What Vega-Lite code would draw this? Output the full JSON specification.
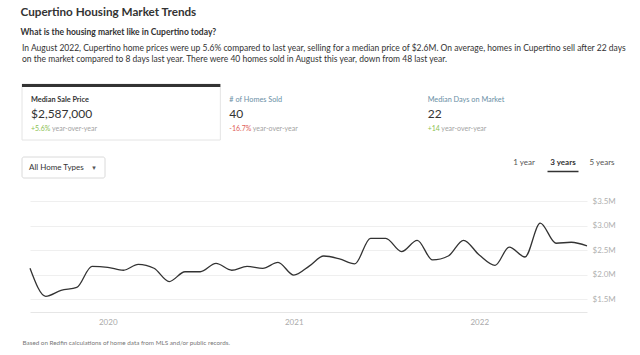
{
  "$schema": "https://vega.github.io/schema/vega-lite/v6.json",
  "background": "white",
  "padding": {"left": 20, "top": 7, "right": 0, "bottom": 0},
  "autosize": {"type": "pad"},
  "config": {
    "font": "Lato",
    "view": {"stroke": null},
    "concat": {"spacing": 0}
  },
  "spacing": 0,
  "title": {
    "text": "Cupertino Housing Market Trends",
    "subtitle": "What is the housing market like in Cupertino today?",
    "anchor": "start",
    "font": "Lato",
    "fontSize": 11.7,
    "fontWeight": "bold",
    "color": "#333333",
    "subtitleFont": "Lato",
    "subtitleFontSize": 8.5,
    "subtitleFontWeight": "bold",
    "subtitleColor": "#333333",
    "subtitlePadding": 8.5,
    "offset": 7.5
  },
  "vconcat": [
    {
      "width": 595,
      "height": 56,
      "title": {
        "text": [
          "In August 2022, Cupertino home prices were up 5.6% compared to last year, selling for a median price of $2.6M. On average, homes in Cupertino sell after 22 days",
          "on the market compared to 8 days last year. There were 40 homes sold in August this year, down from 48 last year."
        ],
        "anchor": "start",
        "frame": "group",
        "dx": -8,
        "font": "Lato",
        "fontSize": 8.5,
        "fontWeight": "normal",
        "color": "#333333",
        "lineHeight": 11.5,
        "offset": 20
      },
      "data": {
        "values": [
          {"tab": "Median Sale Price", "value": "$2,587,000", "change": "+5.6%", "selected": true, "dir": "up"},
          {"tab": "# of Homes Sold", "value": "40", "change": "-16.7%", "selected": false, "dir": "down"},
          {"tab": "Median Days on Market", "value": "22", "change": "+14", "selected": false, "dir": "up"}
        ]
      },
      "encoding": {
        "x": {"field": "tab", "type": "nominal", "bandPosition": 0, "scale": {"type": "band", "domain": ["Median Sale Price", "# of Homes Sold", "Median Days on Market"], "range": [-8, 587], "paddingInner": 0, "paddingOuter": 0}, "axis": null}
      },
      "layer": [
        {
          "transform": [{"filter": "datum.selected"}],
          "mark": {"type": "bar", "fill": "white", "stroke": "#e4e4e4", "strokeWidth": 1},
          "encoding": {
            "x": {"field": "tab", "type": "nominal", "scale": {"type": "band", "domain": ["Median Sale Price", "# of Homes Sold", "Median Days on Market"], "range": [-8, 587], "paddingInner": 0, "paddingOuter": 0}, "axis": null}
          }
        },
        {
          "transform": [{"filter": "datum.selected"}],
          "mark": {"type": "rule", "color": "#333333", "strokeWidth": 3},
          "encoding": {
            "x2": {"field": "tab", "bandPosition": 1},
            "y": {"datum": "bar", "type": "nominal", "scale": {"type": "point", "domain": ["bar", "label", "value", "change"], "range": [1.5, 44.5], "padding": 0}, "axis": null}
          }
        },
        {
          "transform": [{"filter": "datum.selected"}],
          "mark": {"type": "text", "align": "left", "baseline": "middle", "dx": 9, "fontSize": 7.3, "fontWeight": "bold", "color": "#333333"},
          "encoding": {
            "y": {"datum": "label", "type": "nominal", "scale": {"type": "point", "domain": ["bar", "label", "value", "change"], "range": [1.5, 44.5], "padding": 0}, "axis": null},
            "text": {"field": "tab"}
          }
        },
        {
          "transform": [{"filter": "!datum.selected"}],
          "mark": {"type": "text", "align": "left", "baseline": "middle", "dx": 9, "fontSize": 7.3, "fontWeight": "normal", "color": "#6a8fa6"},
          "encoding": {
            "y": {"datum": "label", "type": "nominal", "scale": {"type": "point", "domain": ["bar", "label", "value", "change"], "range": [1.5, 44.5], "padding": 0}, "axis": null},
            "text": {"field": "tab"}
          }
        },
        {
          "mark": {"type": "text", "align": "left", "baseline": "middle", "dx": 9, "fontSize": 12, "color": "#333333"},
          "encoding": {
            "y": {"datum": "value", "type": "nominal", "scale": {"type": "point", "domain": ["bar", "label", "value", "change"], "range": [1.5, 44.5], "padding": 0}, "axis": null},
            "text": {"field": "value"}
          }
        },
        {
          "mark": {"type": "text", "align": "left", "baseline": "middle", "dx": 9, "fontSize": 7},
          "encoding": {
            "y": {"datum": "change", "type": "nominal", "scale": {"type": "point", "domain": ["bar", "label", "value", "change"], "range": [1.5, 44.5], "padding": 0}, "axis": null},
            "text": {"field": "change"},
            "color": {"field": "dir", "type": "nominal", "scale": {"domain": ["up", "down"], "range": ["#8cc152", "#e0605a"]}, "legend": null}
          }
        },
        {
          "transform": [{"filter": "datum.tab === 'Median Sale Price'"}],
          "mark": {"type": "text", "align": "left", "baseline": "middle", "dx": 30, "fontSize": 7, "color": "#a3a3a3"},
          "encoding": {
            "y": {"datum": "change", "type": "nominal", "scale": {"type": "point", "domain": ["bar", "label", "value", "change"], "range": [1.5, 44.5], "padding": 0}, "axis": null},
            "text": {"value": "year-over-year"}
          }
        },
        {
          "transform": [{"filter": "datum.tab === '# of Homes Sold'"}],
          "mark": {"type": "text", "align": "left", "baseline": "middle", "dx": 32.5, "fontSize": 7, "color": "#a3a3a3"},
          "encoding": {
            "y": {"datum": "change", "type": "nominal", "scale": {"type": "point", "domain": ["bar", "label", "value", "change"], "range": [1.5, 44.5], "padding": 0}, "axis": null},
            "text": {"value": "year-over-year"}
          }
        },
        {
          "transform": [{"filter": "datum.tab === 'Median Days on Market'"}],
          "mark": {"type": "text", "align": "left", "baseline": "middle", "dx": 22.7, "fontSize": 7, "color": "#a3a3a3"},
          "encoding": {
            "y": {"datum": "change", "type": "nominal", "scale": {"type": "point", "domain": ["bar", "label", "value", "change"], "range": [1.5, 44.5], "padding": 0}, "axis": null},
            "text": {"value": "year-over-year"}
          }
        }
      ]
    },
    {
      "width": 595,
      "height": 56,
      "resolve": {"scale": {"x": "independent", "y": "independent"}},
      "layer": [
        {
          "data": {"values": [{"label": "All Home Types"}]},
          "mark": {"type": "bar", "fill": "white", "stroke": "#dadada", "strokeWidth": 1, "cornerRadius": 2},
          "encoding": {
            "x": {"field": "label", "type": "nominal", "scale": {"type": "band", "range": [-8, 75], "paddingInner": 0, "paddingOuter": 0}, "axis": null},
            "y": {"field": "label", "type": "nominal", "scale": {"type": "band", "range": [16, 37], "paddingInner": 0, "paddingOuter": 0}, "axis": null}
          }
        },
        {
          "data": {"values": [{"label": "All Home Types"}]},
          "mark": {"type": "text", "align": "left", "baseline": "middle", "dx": 7, "fontSize": 8, "color": "#333333"},
          "encoding": {
            "x": {"field": "label", "type": "nominal", "bandPosition": 0, "scale": {"type": "band", "range": [-8, 75], "paddingInner": 0, "paddingOuter": 0}, "axis": null},
            "y": {"field": "label", "type": "nominal", "scale": {"type": "band", "range": [16, 37], "paddingInner": 0, "paddingOuter": 0}, "axis": null},
            "text": {"field": "label"}
          }
        },
        {
          "data": {"values": [{"label": "All Home Types"}]},
          "mark": {"type": "text", "align": "center", "baseline": "middle", "dx": -11, "fontSize": 7, "color": "#555555", "font": "DejaVu Sans"},
          "encoding": {
            "x": {"field": "label", "type": "nominal", "bandPosition": 1, "scale": {"type": "band", "range": [-8, 75], "paddingInner": 0, "paddingOuter": 0}, "axis": null},
            "y": {"field": "label", "type": "nominal", "scale": {"type": "band", "range": [16, 37], "paddingInner": 0, "paddingOuter": 0}, "axis": null},
            "text": {"value": "▾"}
          }
        },
        {
          "data": {"values": [{"opt": "1 year", "sel": false}, {"opt": "3 years", "sel": true}, {"opt": "5 years", "sel": false}]},
          "layer": [
            {
              "transform": [{"filter": "!datum.sel"}],
              "mark": {"type": "text", "align": "center", "baseline": "middle", "fontSize": 8, "color": "#555555"},
              "encoding": {
                "x": {"field": "opt", "type": "nominal", "scale": {"type": "point", "domain": ["1 year", "3 years", "5 years"], "range": [494, 572], "padding": 0}, "axis": null},
                "y": {"datum": "text", "type": "nominal", "scale": {"type": "point", "domain": ["text", "underline"], "range": [22, 30.5], "padding": 0}, "axis": null},
                "text": {"field": "opt"}
              }
            },
            {
              "transform": [{"filter": "datum.sel"}],
              "mark": {"type": "text", "align": "center", "baseline": "middle", "fontSize": 8, "fontWeight": "bold", "color": "#333333"},
              "encoding": {
                "x": {"field": "opt", "type": "nominal", "scale": {"type": "point", "domain": ["1 year", "3 years", "5 years"], "range": [494, 572], "padding": 0}, "axis": null},
                "y": {"datum": "text", "type": "nominal", "scale": {"type": "point", "domain": ["text", "underline"], "range": [22, 30.5], "padding": 0}, "axis": null},
                "text": {"field": "opt"}
              }
            },
            {
              "transform": [{"filter": "datum.sel"}],
              "mark": {"type": "tick", "orient": "horizontal", "size": 31, "thickness": 1.5, "color": "#333333", "opacity": 1},
              "encoding": {
                "x": {"field": "opt", "type": "nominal", "scale": {"type": "point", "domain": ["1 year", "3 years", "5 years"], "range": [494, 572], "padding": 0}, "axis": null},
                "y": {"datum": "underline", "type": "nominal", "scale": {"type": "point", "domain": ["text", "underline"], "range": [22, 30.5], "padding": 0}, "axis": null}
              }
            }
          ]
        }
      ]
    },
    {
      "width": 557,
      "height": 111,
      "data": {
        "values": [
          {"month": "2019-08-01T00:00:00", "price": 2130000},
          {"month": "2019-09-01T00:00:00", "price": 1560000},
          {"month": "2019-10-01T00:00:00", "price": 1680000},
          {"month": "2019-11-01T00:00:00", "price": 1740000},
          {"month": "2019-12-01T00:00:00", "price": 2170000},
          {"month": "2020-01-01T00:00:00", "price": 2150000},
          {"month": "2020-02-01T00:00:00", "price": 2090000},
          {"month": "2020-03-01T00:00:00", "price": 2210000},
          {"month": "2020-04-01T00:00:00", "price": 2130000},
          {"month": "2020-05-01T00:00:00", "price": 1860000},
          {"month": "2020-06-01T00:00:00", "price": 2060000},
          {"month": "2020-07-01T00:00:00", "price": 2060000},
          {"month": "2020-08-01T00:00:00", "price": 2230000},
          {"month": "2020-09-01T00:00:00", "price": 2090000},
          {"month": "2020-10-01T00:00:00", "price": 2170000},
          {"month": "2020-11-01T00:00:00", "price": 2130000},
          {"month": "2020-12-01T00:00:00", "price": 2250000},
          {"month": "2021-01-01T00:00:00", "price": 1990000},
          {"month": "2021-02-01T00:00:00", "price": 2180000},
          {"month": "2021-03-01T00:00:00", "price": 2380000},
          {"month": "2021-04-01T00:00:00", "price": 2320000},
          {"month": "2021-05-01T00:00:00", "price": 2220000},
          {"month": "2021-06-01T00:00:00", "price": 2740000},
          {"month": "2021-07-01T00:00:00", "price": 2740000},
          {"month": "2021-08-01T00:00:00", "price": 2470000},
          {"month": "2021-09-01T00:00:00", "price": 2700000},
          {"month": "2021-10-01T00:00:00", "price": 2300000},
          {"month": "2021-11-01T00:00:00", "price": 2380000},
          {"month": "2021-12-01T00:00:00", "price": 2700000},
          {"month": "2022-01-01T00:00:00", "price": 2400000},
          {"month": "2022-02-01T00:00:00", "price": 2190000},
          {"month": "2022-03-01T00:00:00", "price": 2560000},
          {"month": "2022-04-01T00:00:00", "price": 2360000},
          {"month": "2022-05-01T00:00:00", "price": 3050000},
          {"month": "2022-06-01T00:00:00", "price": 2640000},
          {"month": "2022-07-01T00:00:00", "price": 2660000},
          {"month": "2022-08-01T00:00:00", "price": 2587000}
        ]
      },
      "mark": {"type": "line", "interpolate": "monotone", "color": "#333333", "strokeWidth": 1.3},
      "encoding": {
        "x": {
          "field": "month",
          "type": "temporal",
          "scale": {"domain": [{"year": 2019, "month": 8, "date": 1}, {"year": 2022, "month": 8, "date": 1}]},
          "axis": {
            "format": "%Y",
            "tickCount": {"interval": "year", "step": 1},
            "grid": false,
            "ticks": false,
            "domain": true,
            "domainColor": "#e6e6e6",
            "labelColor": "#aaaaaa",
            "labelFontSize": 8,
            "labelPadding": 6,
            "title": "Based on Redfin calculations of home data from MLS and/or public records.",
            "titleX": -8,
            "titleY": 30,
            "titleAlign": "left",
            "titleAnchor": null,
            "titleBaseline": "middle",
            "titleFontSize": 6.3,
            "titleFontWeight": "normal",
            "titleColor": "#777777"
          }
        },
        "y": {
          "field": "price",
          "type": "quantitative",
          "scale": {"domain": [1240000, 3500000], "nice": false, "zero": false},
          "axis": {
            "orient": "right",
            "values": [1500000, 2000000, 2500000, 3000000, 3500000],
            "labelExpr": "'$' + format(datum.value / 1000000, '.1f') + 'M'",
            "grid": true,
            "gridColor": "#efefef",
            "domain": false,
            "ticks": false,
            "labelColor": "#b0b0b0",
            "labelFontSize": 8,
            "labelPadding": 5,
            "title": null
          }
        }
      }
    }
  ]
}
